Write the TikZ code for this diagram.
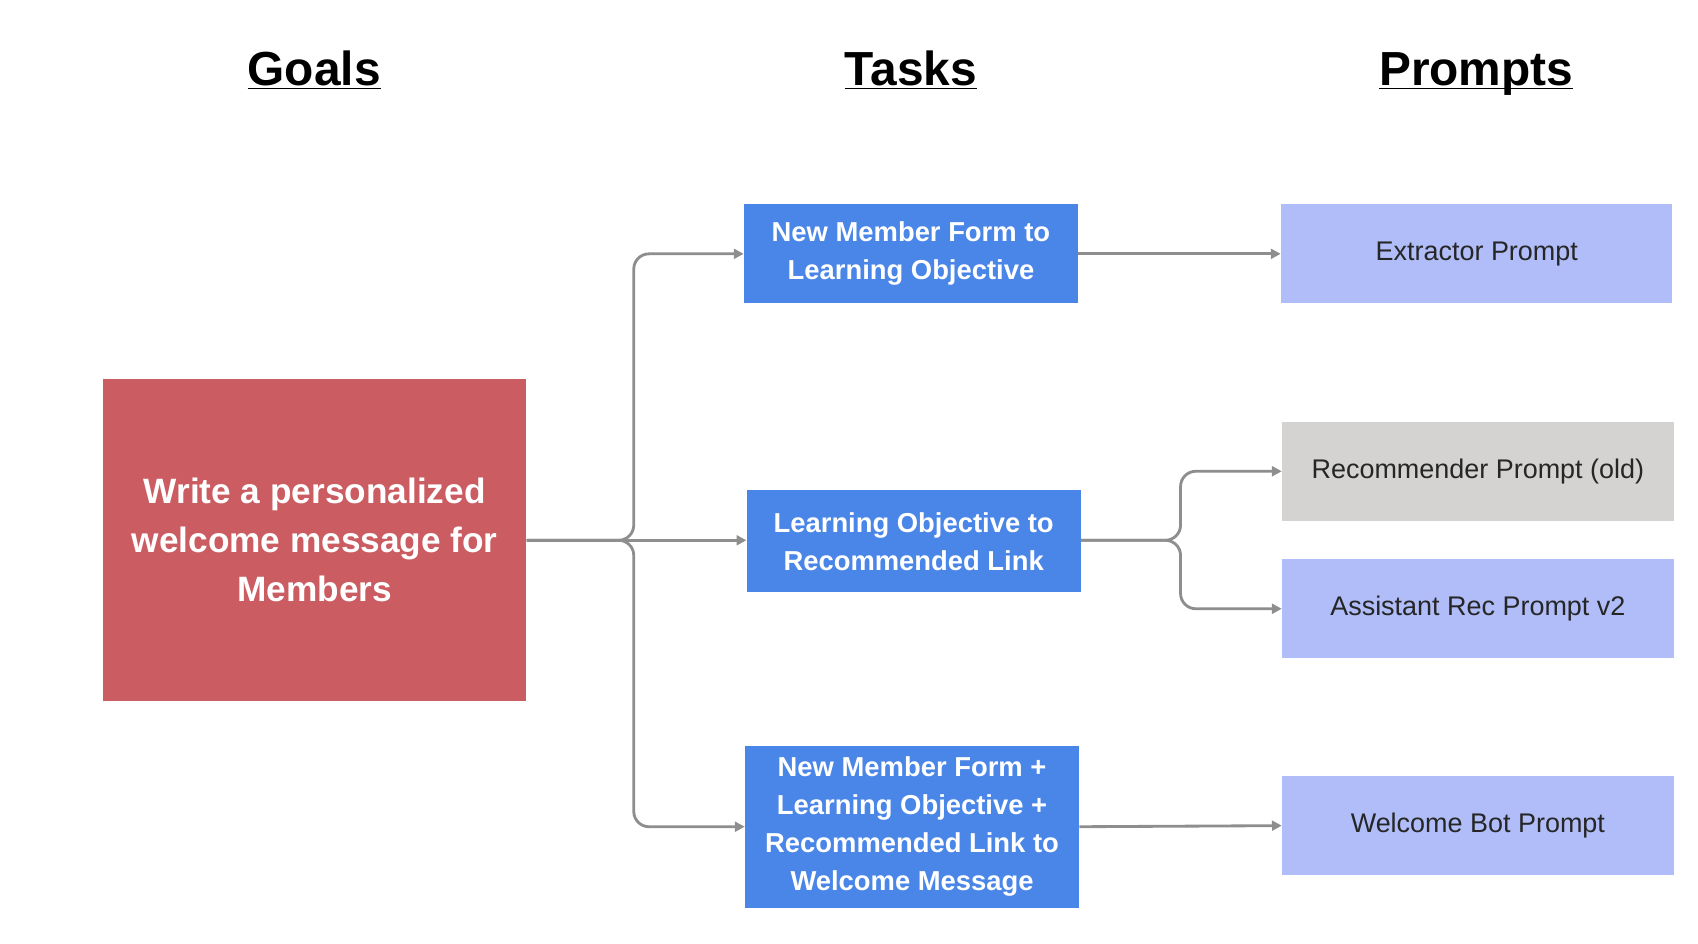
\documentclass[tikz,border=0pt]{standalone}
\usepackage{fontspec}
\setmainfont{Liberation Sans}
\usetikzlibrary{arrows.meta}
\definecolor{goalred}{HTML}{CB5C62}
\definecolor{taskblue}{HTML}{4A86E8}
\definecolor{promptblue}{HTML}{B0BDF8}
\definecolor{promptgray}{HTML}{D4D3D2}
\definecolor{linegray}{HTML}{8E8E8E}
\begin{document}
\begin{tikzpicture}[x=0.5pt,y=-0.5pt]
		\tikzstyle{header}=[anchor=base,inner sep=0pt,font=\fontsize{22}{26}\selectfont\bfseries]
		\tikzstyle{goal}=[fill=goalred,text=white,align=center,minimum width=194.5pt,minimum height=148pt,inner sep=0pt,font=\fontsize{16.2}{22.5}\selectfont\bfseries]
		\tikzstyle{task}=[fill=taskblue,text=white,align=center,minimum width=153.5pt,inner sep=0pt,font=\fontsize{12.6}{17.5}\selectfont\bfseries]
		\tikzstyle{prompt}=[fill=promptblue,text=black!85,minimum width=180pt,minimum height=45.5pt,inner sep=0pt,font=\fontsize{12.4}{14}\selectfont]
		\tikzstyle{conn} = [draw,linegray,line width=1.3pt,rounded corners=7pt,-{Triangle[length=4.5pt,width=4.5pt]}]
		
		\useasboundingbox (0,0) rectangle (1562,868);
		
		\node[header] (hgoals) at (289,79) {\underline{\smash{Goals}}};
		\node[header] (htasks) at (838,79) {\underline{\smash{Tasks}}};
		\node[header] (hprompts) at (1358,79) {\underline{\smash{Prompts}}};
		
		\node[goal] (goal) at (289.5,497) {Write a personalized\\welcome message for\\Members};
		
		\node[task,minimum height=45.5pt] (t1) at (838,233.5) {New Member Form to\\Learning Objective};
		\node[task,minimum height=47pt] (t2) at (840.5,498) {Learning Objective to\\Recommended Link};
		\node[task,minimum height=74.5pt] (t3) at (839,760.5) {New Member Form +\\Learning Objective +\\Recommended Link to\\Welcome Message};
		
		\node[prompt] (p1) at (1358.5,233.5) {Extractor Prompt};
		\node[prompt,fill=promptgray] (p2) at (1359.5,433.5) {Recommender Prompt (old)};
		\node[prompt] (p3) at (1359.5,560) {Assistant Rec Prompt v2};
		\node[prompt] (p4) at (1359.5,759.5) {Welcome Bot Prompt};
		
		\coordinate (gsplit) at (583,497);
		\coordinate (tsplit) at (1086,497);
		
		\draw[conn] (goal.east) -- (gsplit) |- (t1.west);
		\draw[conn] (goal.east) -- (t2.west |- gsplit);
		\draw[conn] (goal.east) -- (gsplit) |- (t3.west);
		
		\draw[conn] (t1.east) -- (p1.west);
		\draw[conn] (t2.east |- tsplit) -- (tsplit) |- (p2.west);
		\draw[conn] (t2.east |- tsplit) -- (tsplit) |- (p3.west);
		\draw[conn] (t3.east) -- (p4.west);
\end{tikzpicture}
\end{document}
